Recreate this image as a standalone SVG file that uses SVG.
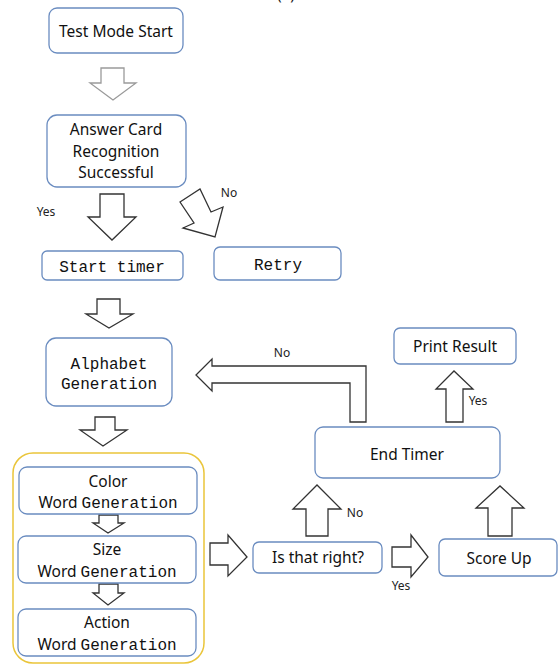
<svg xmlns="http://www.w3.org/2000/svg" width="558" height="666" viewBox="0 0 558 666">
<style>
.box{fill:#fff;stroke:#6a8cc0;stroke-width:1.3}
.grp{fill:none;stroke:#eac53a;stroke-width:1.5}
.arr{fill:#fff;stroke:#333;stroke-width:1.3;stroke-linejoin:miter}
.arr2{fill:#fff;stroke:#9a9a9a;stroke-width:1.3}
.sans{font-family:"Noto Sans","Open Sans",sans-serif;font-size:15.5px;fill:#111}
.mono{font-family:"Liberation Mono","DejaVu Sans Mono",monospace;font-size:16px;fill:#111}
.lbl{font-family:"Noto Sans","Open Sans",sans-serif;font-size:12px;fill:#222}
text{text-anchor:middle}
</style>
<rect width="558" height="666" fill="#fff"/>
<text class="sans" x="286" y="0">(a)</text>

<g id="connectors">
<polygon class="arr2" points="101,68 124,68 124,83 136,83 113,100 90,83 101,83"/>
<polygon class="arr" points="100,194 124,194 124,217 136,217 112,240 88,217 100,217"/>
<polygon class="arr" points="180,202 200,189 211,212 223,207 215,237 183,228 194,223"/>
<polygon class="arr" points="97,299 120,299 120,314 133,314 109,328 86,314 97,314"/>
<polygon class="arr" points="95,417 115,417 115,430 127,430 103,446 80,430 95,430"/>
<polygon class="arr" points="99,515 118,515 118,523 124,523 108,533 93,523 99,523"/>
<polygon class="arr" points="99,584 118,584 118,593 124,593 108,605 93,593 99,593"/>
<polygon class="arr" points="210,543 228,543 228,535 247,557 228,576 228,565 210,565"/>
<polygon class="arr" points="392,547 411,547 411,535 428,557 411,577 411,567 392,567"/>
<polygon class="arr" points="306,536 306,509 293,509 317,485 341,509 328,509 328,536"/>
<polygon class="arr" points="488,536 488,508 476,508 500,486 524,508 512,508 512,536"/>
<polygon class="arr" points="446,422 446,389 436,389 454,371 473,389 463,389 463,422"/>
<polygon class="arr" points="366,422 366,366 212,366 212,359 196,375 212,391 212,383 350,383 350,422"/>
<text class="lbl" x="46" y="216">Yes</text>
<text class="lbl" x="229" y="197">No</text>
<text class="lbl" x="282" y="357">No</text>
<text class="lbl" x="478" y="405">Yes</text>
<text class="lbl" x="355" y="517">No</text>
<text class="lbl" x="401" y="590">Yes</text>
</g>

<g id="test-mode-start">
<rect class="box" x="49" y="8" width="134" height="45" rx="8"/>
<text class="sans" x="116" y="37">Test Mode Start</text>
</g>
<g id="answer-card">
<rect class="box" x="47" y="115" width="139" height="72" rx="10"/>
<text class="sans" x="116" y="135">Answer Card</text>
<text class="sans" x="116" y="157">Recognition</text>
<text class="sans" x="116" y="178">Successful</text>
</g>
<g id="start-timer">
<rect class="box" x="42" y="251" width="141" height="29" rx="5"/>
<text class="mono" x="112" y="272">Start timer</text>
</g>
<g id="retry">
<rect class="box" x="214" y="247" width="127" height="33" rx="6"/>
<text class="mono" x="278" y="270">Retry</text>
</g>
<g id="alphabet">
<rect class="box" x="46" y="338" width="126" height="68" rx="10"/>
<text class="mono" x="109" y="369">Alphabet</text>
<text class="mono" x="109" y="389">Generation</text>
</g>
<g id="print-result">
<rect class="box" x="394" y="328" width="122" height="36" rx="6"/>
<text class="sans" x="455" y="352">Print Result</text>
</g>
<g id="end-timer">
<rect class="box" x="315" y="427" width="185" height="51" rx="8"/>
<text class="sans" x="407" y="460">End Timer</text>
</g>
<g id="word-group">
<rect class="grp" x="13" y="453" width="191" height="210" rx="20"/>
</g>
<g id="color-word">
<rect class="box" x="19" y="467" width="178" height="47" rx="8"/>
<text class="sans" x="108" y="487">Color</text>
<text x="108" y="508"><tspan class="sans">Word </tspan><tspan class="mono">Generation</tspan></text>
</g>
<g id="size-word">
<rect class="box" x="18" y="536" width="178" height="47" rx="8"/>
<text class="sans" x="107" y="555">Size</text>
<text x="107" y="577"><tspan class="sans">Word </tspan><tspan class="mono">Generation</tspan></text>
</g>
<g id="action-word">
<rect class="box" x="18" y="609" width="178" height="47" rx="8"/>
<text class="sans" x="107" y="628">Action</text>
<text x="107" y="650"><tspan class="sans">Word </tspan><tspan class="mono">Generation</tspan></text>
</g>
<g id="is-that-right">
<rect class="box" x="253" y="542" width="129" height="31" rx="6"/>
<text class="sans" x="318" y="563">Is that right?</text>
</g>
<g id="score-up">
<rect class="box" x="439" y="539" width="118" height="37" rx="6"/>
<text class="sans" x="499" y="564">Score Up</text>
</g>
</svg>
